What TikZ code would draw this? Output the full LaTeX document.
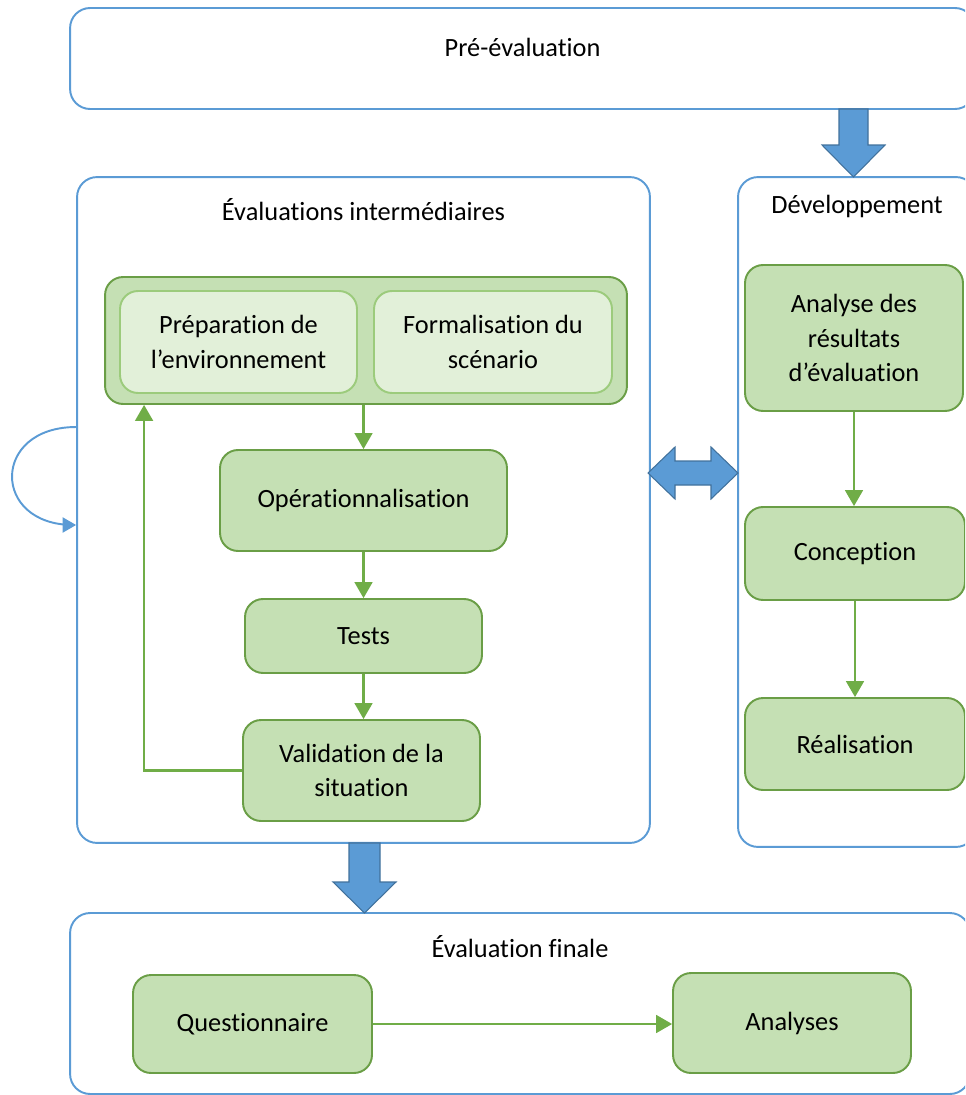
\documentclass[tikz,border=0pt]{standalone}
\usepackage{fontspec}
\setmainfont{Carlito}[Ligatures={NoCommon}]
\usepackage{tikz}
\usetikzlibrary{arrows,positioning}
\definecolor{phaseblue}{HTML}{5B9BD5}
\definecolor{arrowblue}{HTML}{41719C}
\definecolor{stepfill}{HTML}{C5E0B4}
\definecolor{stepline}{HTML}{6A9E46}
\definecolor{subfill}{HTML}{E2F0D9}
\definecolor{subline}{HTML}{9CCB7C}
\definecolor{flowgreen}{HTML}{70AD47}

\begin{document}
\begin{tikzpicture}[
        x=0.02cm, y=-0.02cm,
        font=\fontsize{15}{19.8}\selectfont,
        phase/.style={
            rectangle,
            draw=phaseblue,
            line width=1.1pt,
            rounded corners=0.4cm,
            inner sep=0pt
        },
        title/.style={inner sep=0pt},
        stepbox/.style={
            rectangle,
            draw=stepline,
            fill=stepfill,
            line width=1.1pt,
            text centered,
            rounded corners=0.36cm,
            inner sep=2pt
        },
        subbox/.style={
            stepbox,
            draw=subline,
            fill=subfill
        },
        flow/.style={-triangle 60, draw=flowgreen, line width=1.5pt},
        bigarrow/.style={draw=arrowblue, fill=phaseblue, line width=0.6pt},
        loop/.style={-triangle 60, draw=phaseblue, line width=1.1pt}
    ]
        \clip (0,0) rectangle (965,1095);

        % Phase boxes
        \node[phase, minimum width=18.1cm, minimum height=2.02cm] (pre) at (522.5,58.5) {};
        \node[phase, minimum width=11.46cm, minimum height=13.32cm] (interm) at (363.5,510) {};
        \node[phase, minimum width=4.76cm, minimum height=13.4cm] (dev) at (857,512) {};
        \node[phase, minimum width=18cm, minimum height=3.62cm] (finale) at (520,1003.5) {};

        \node[title] (preTitle) at ([yshift=-0.8cm]pre.north) {Pré-évaluation};
        \node[title] (intermTitle) at ([yshift=-0.68cm]interm.north) {Évaluations intermédiaires};
        \node[title] (devTitle) at ([yshift=-0.6cm]dev.north) {Développement};
        \node[title] (finaleTitle) at ([yshift=-0.7cm]finale.north) {Évaluation finale};

        % Intermediate evaluation steps
        \node[stepbox, minimum width=10.44cm, minimum height=2.54cm] (group) at (366,340.5) {};
        \node[subbox, minimum width=4.74cm, minimum height=2.04cm, align=center] (prep) at (238.5,342) {Préparation de\\l’environnement};
        \node[subbox, minimum width=4.76cm, minimum height=2.04cm, align=center] (form) at (493,342) {Formalisation du\\scénario};
        \node[stepbox, minimum width=5.74cm, minimum height=2.02cm] (oper) at (363.5,500.5) {Opérationnalisation};
        \node[stepbox, minimum width=4.74cm, minimum height=1.48cm] (tests) at (363.5,636) {Tests};
        \node[stepbox, minimum width=4.74cm, minimum height=2.02cm, align=center] (valid) at (361.5,770.5) {Validation de la\\situation};

        % Development steps
        \node[stepbox, minimum width=4.36cm, minimum height=2.92cm, align=center] (analyse) at (854,338) {Analyse des\\résultats\\d’évaluation};
        \node[stepbox, minimum width=4.4cm, minimum height=1.86cm] (concep) at (855,553.5) {Conception};
        \node[stepbox, minimum width=4.4cm, minimum height=1.84cm] (real) at (855,744) {Réalisation};

        % Final evaluation steps
        \node[stepbox, minimum width=4.78cm, minimum height=1.96cm] (quest) at (252.5,1024) {Questionnaire};
        \node[stepbox, minimum width=4.76cm, minimum height=2cm] (analyses) at (792,1023) {Analyses};

        % Flow lines
        \draw[flow] (oper.north |- group.south) -- (oper.north);
        \draw[flow] (oper.south) -- (tests.north);
        \draw[flow] (tests.south) -- (tests.south |- valid.north);
        \draw[flow] (valid.west) -| ([xshift=0.8cm]group.south west);
        \draw[flow] (analyse.south) -- (analyse.south |- concep.north);
        \draw[flow] (concep.south) -- (real.north);
        \draw[flow] (quest.east) -- (quest.east -| analyses.west);

        % Iteration loop
        \draw[loop] ([yshift=1.66cm]interm.west) .. controls +(-1.7cm,0) and +(-1.7cm,0) .. ([yshift=-0.3cm]interm.west);

        % Block arrows
        \draw[bigarrow] (839,109) -- (868,109) -- (868,145) -- (885,145) -- (853.5,177) -- (822,145) -- (839,145) -- cycle;
        \draw[bigarrow] (648,473) -- (675,447) -- (675,461) -- (711,461) -- (711,447) -- (738,473)
            -- (711,499) -- (711,485) -- (675,485) -- (675,499) -- cycle;
        \draw[bigarrow] (349,843) -- (380,843) -- (380,882) -- (396,882) -- (364.5,913) -- (333,882) -- (349,882) -- cycle;
    \end{tikzpicture}
\end{document}
